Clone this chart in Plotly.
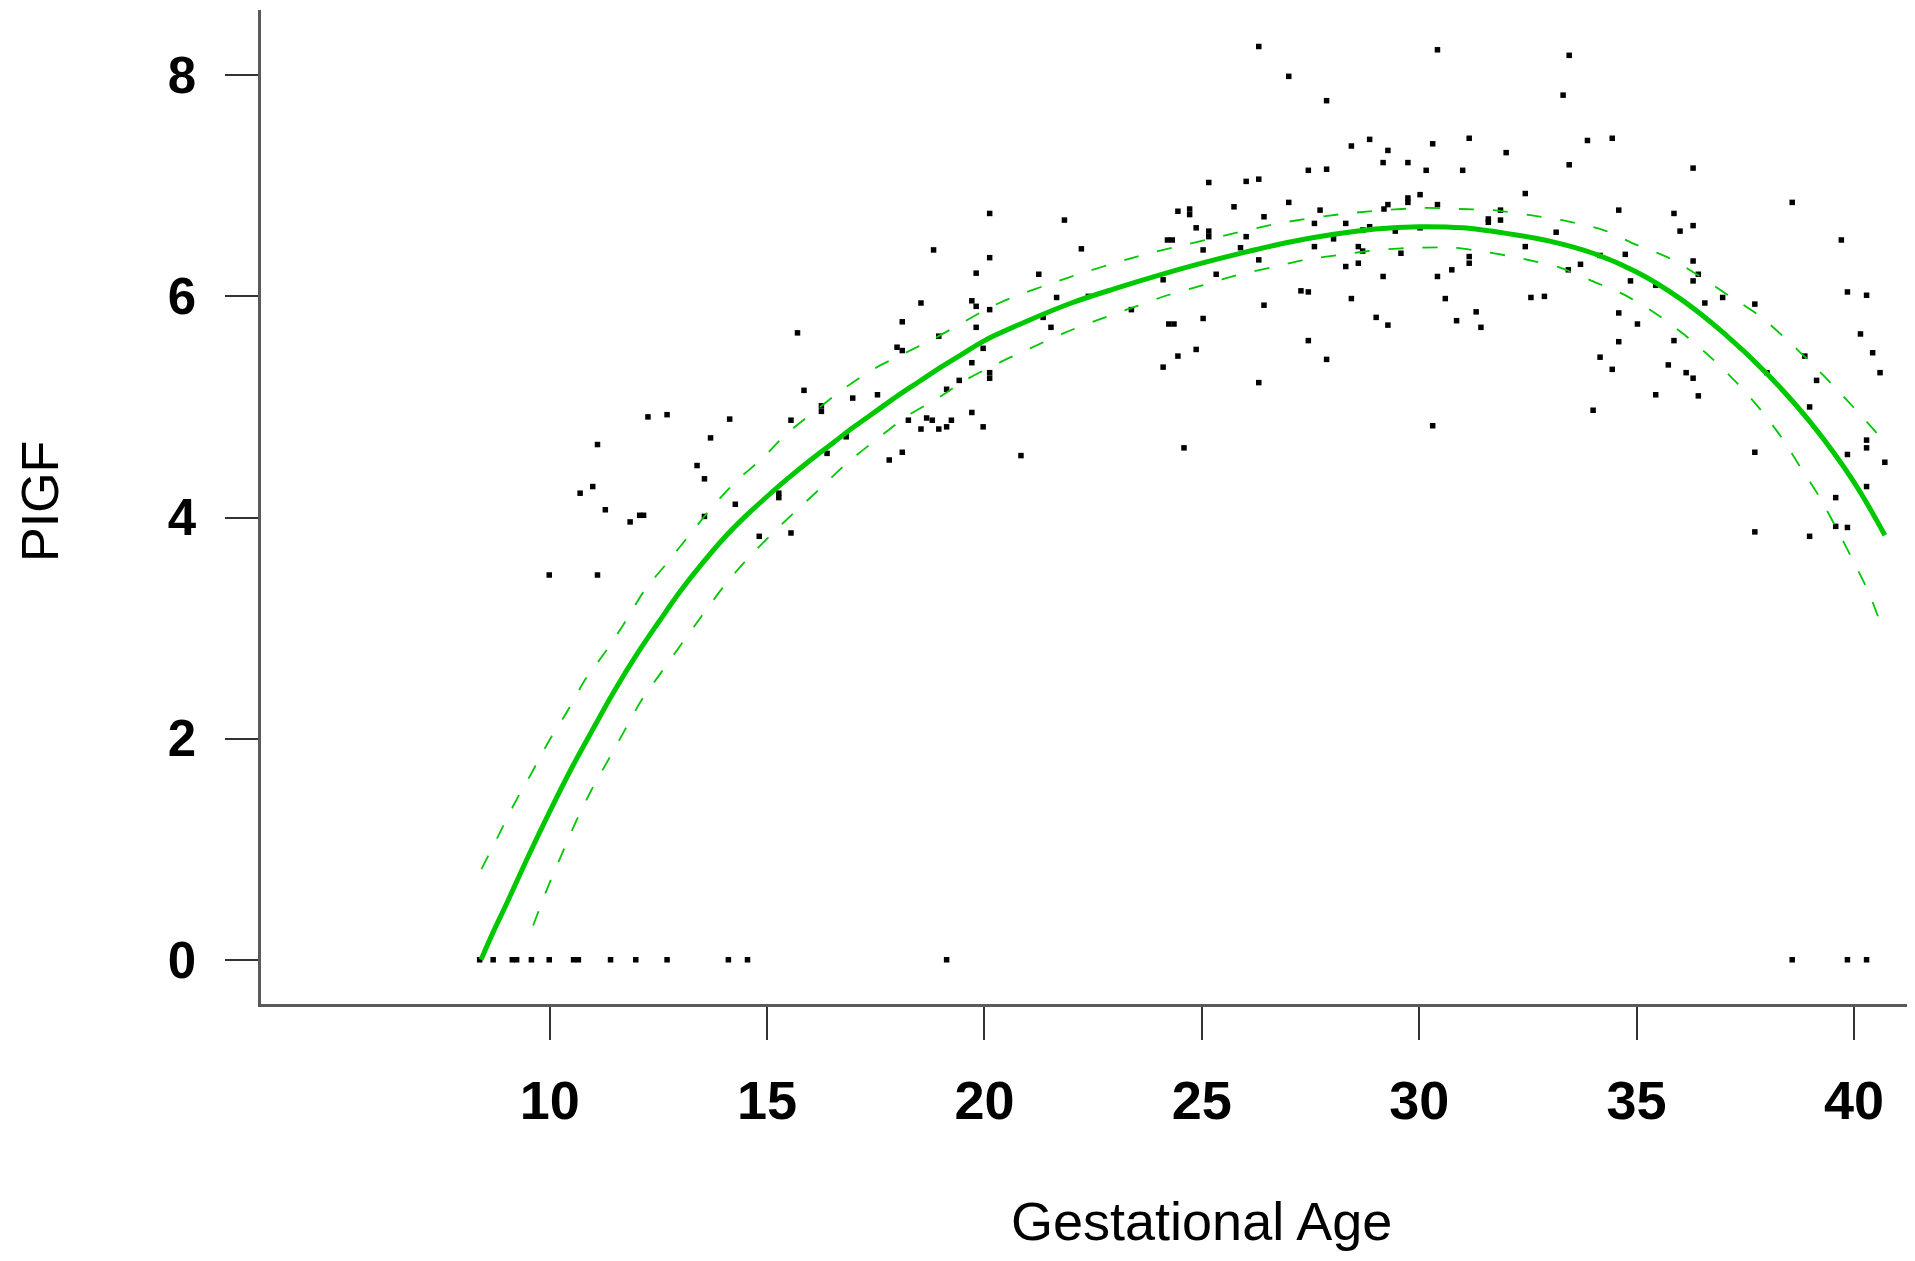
import plotly.graph_objects as go

# ---- scatter data (gestational age, PlGF) ----
ga = [
    8.39, 8.70, 9.14, 9.24, 9.58, 9.99, 10.55, 10.66, 11.40, 11.98, 12.70, 14.11, 14.55, 19.13, 38.58, 39.85, 40.29,
    15.70, 15.85, 16.25, 16.25, 15.55, 12.26, 12.70, 14.14, 11.10, 13.70, 13.39, 13.56, 10.99, 10.70, 15.27, 15.27,
    16.38, 16.82, 11.28, 11.85, 12.07, 12.16, 13.56, 14.27, 14.82, 15.55, 9.99, 11.10,
    26.31, 27.00, 27.87, 30.42, 28.86, 28.44, 29.28, 30.31, 29.17, 29.74, 30.16, 27.45, 27.87, 25.16, 26.02, 26.31,
    27.00, 27.72, 25.74, 26.43, 24.45, 24.72, 24.72, 24.87, 25.16, 25.16, 24.21, 24.32, 26.02, 25.03, 25.89, 26.31,
    25.33, 24.11, 30.02, 30.42, 29.28, 29.19, 29.74, 29.74, 27.59, 28.31, 28.86, 28.70, 29.45, 30.02, 28.03, 27.59,
    28.60, 28.70, 29.58, 28.31, 28.60, 29.17, 30.42, 30.75, 30.60, 28.44, 27.28, 27.45, 26.43, 29.01, 29.28, 27.45,
    27.87, 26.31, 30.31, 25.03, 24.24, 24.36, 24.45, 24.87, 24.11, 24.59, 22.39, 21.66, 22.23, 21.84, 21.25, 20.12,
    18.83, 20.12, 19.81, 18.54, 19.71, 19.81, 20.12, 18.11, 18.95, 19.81, 17.99, 18.11, 19.97, 21.35, 21.53, 19.71,
    20.12, 20.12, 19.42, 19.13, 16.97, 17.54, 23.38, 18.67, 18.80, 19.24, 18.25, 18.54, 18.95, 19.13, 19.71, 19.97,
    18.11, 17.81, 20.84,
    33.45, 33.31, 31.15, 31.00, 32.00, 33.87, 34.44, 33.45, 36.30, 32.44, 31.87, 31.59, 31.59, 31.87, 33.15, 32.44,
    31.15, 31.15, 33.43, 33.71, 34.16, 34.59, 34.74, 34.86, 35.44, 35.86, 36.00, 36.30, 36.30, 36.42, 36.30, 36.57,
    36.98, 37.72, 38.58, 39.71, 39.85, 40.29, 40.15, 40.43, 40.60, 38.87, 39.14, 38.98, 38.00, 32.57, 32.88, 31.31,
    30.86, 31.42, 34.59, 35.02, 34.59, 34.16, 34.44, 35.86, 35.73, 36.14, 36.30, 36.42, 35.44, 34.00, 37.72, 39.85,
    40.29, 40.29, 40.71, 40.29, 39.58, 37.72, 38.98, 39.58, 39.85,
]
plgf = [
    0, 0, 0, 0, 0, 0, 0, 0, 0, 0, 0, 0, 0, 0, 0, 0, 0,
    5.67, 5.15, 5.01, 4.96, 4.88, 4.91, 4.93, 4.89, 4.66, 4.72, 4.47, 4.35, 4.28, 4.22, 4.22, 4.18,
    4.58, 4.73, 4.07, 3.96, 4.02, 4.02, 4.01, 4.12, 3.83, 3.86, 3.48, 3.48,
    8.26, 7.99, 7.77, 8.23, 7.42, 7.36, 7.32, 7.38, 7.21, 7.21, 7.14, 7.14, 7.15, 7.03, 7.04, 7.06,
    6.85, 6.78, 6.81, 6.72, 6.77, 6.79, 6.74, 6.62, 6.59, 6.54, 6.51, 6.51, 6.54, 6.42, 6.44, 6.33,
    6.20, 6.15, 6.92, 6.83, 6.83, 6.79, 6.89, 6.85, 6.66, 6.66, 6.63, 6.60, 6.59, 6.62, 6.52, 6.45,
    6.45, 6.41, 6.39, 6.27, 6.30, 6.18, 6.18, 6.24, 5.98, 5.98, 6.05, 6.04, 5.92, 5.81, 5.74, 5.60,
    5.43, 5.22, 4.83, 5.80, 5.75, 5.75, 5.46, 5.52, 5.36, 4.63, 6.00, 5.99, 6.43, 6.69, 6.20, 6.75,
    6.42, 6.35, 6.21, 5.94, 5.96, 5.91, 5.88, 5.77, 5.64, 5.72, 5.54, 5.51, 5.53, 5.81, 5.72, 5.40,
    5.31, 5.26, 5.24, 5.16, 5.08, 5.11, 5.88, 4.90, 4.88, 4.88, 4.88, 4.80, 4.80, 4.82, 4.95, 4.82,
    4.59, 4.52, 4.56,
    8.18, 7.82, 7.43, 7.14, 7.30, 7.41, 7.43, 7.19, 7.16, 6.93, 6.78, 6.70, 6.67, 6.69, 6.58, 6.45,
    6.36, 6.30, 6.24, 6.29, 6.37, 6.78, 6.38, 6.14, 6.10, 6.75, 6.59, 6.64, 6.32, 6.20, 6.14, 5.94,
    5.99, 5.93, 6.85, 6.51, 6.04, 6.01, 5.66, 5.49, 5.31, 5.46, 5.24, 5.00, 5.31, 5.99, 6.00, 5.86,
    5.78, 5.72, 5.85, 5.75, 5.59, 5.45, 5.34, 5.60, 5.38, 5.31, 5.26, 5.10, 5.11, 4.97, 4.59, 4.57,
    4.70, 4.63, 4.50, 4.28, 4.18, 3.87, 3.83, 3.92, 3.91,
]

# ---- fitted curve and confidence limits ----
fit_x = [8.42, 8.70, 9.00, 9.50, 10.00, 10.50, 11.00, 11.50, 12.00, 12.50, 13.00, 13.50, 14.00, 14.50,
         15.00, 15.50, 16.00, 16.50, 17.00, 17.50, 18.00, 18.50, 19.00, 19.50, 20.00, 21.00, 22.00,
         23.00, 24.00, 25.00, 26.00, 27.00, 28.00, 29.00, 30.00, 31.00, 32.00, 33.00, 34.00, 35.00,
         36.00, 37.00, 38.00, 39.00, 40.00, 40.71]
fit_y = [0.00, 0.25, 0.50, 0.93, 1.34, 1.73, 2.09, 2.44, 2.76, 3.05, 3.33, 3.58, 3.81, 4.01,
         4.19, 4.36, 4.52, 4.67, 4.82, 4.96, 5.10, 5.23, 5.36, 5.48, 5.60, 5.78, 5.94,
         6.07, 6.19, 6.30, 6.40, 6.49, 6.56, 6.61, 6.63, 6.62, 6.57, 6.50, 6.39, 6.22,
         5.98, 5.67, 5.30, 4.86, 4.32, 3.84]

upper_x = [8.43, 8.83, 9.20, 9.60, 9.97, 10.41, 10.81, 11.29, 11.71, 12.18, 12.68, 13.21, 13.73, 14.29, 14.88,
           15.43, 16.09, 16.75, 17.44, 18.85, 20.34, 21.93, 23.51, 25.09, 26.77, 28.35, 30.11, 30.94, 31.70,
           32.63, 33.39, 34.24, 34.97, 35.73, 36.46, 37.15, 37.84, 38.45, 39.06, 39.60, 40.17, 40.67]
upper_y = [0.82, 1.13, 1.42, 1.70, 1.97, 2.25, 2.53, 2.79, 3.04, 3.34, 3.58, 3.84, 4.09, 4.33, 4.53,
           4.75, 4.96, 5.16, 5.34, 5.62, 5.94, 6.17, 6.36, 6.51, 6.66, 6.75, 6.80, 6.79, 6.78,
           6.73, 6.68, 6.60, 6.47, 6.35, 6.18, 6.00, 5.82, 5.61, 5.38, 5.16, 4.92, 4.70]

lower_x = [9.62, 9.93, 10.24, 10.57, 10.94, 11.28, 11.69, 12.10, 12.55, 13.04, 13.48, 14.01, 14.51, 15.08, 15.61,
           16.27, 16.83, 17.53, 18.23, 18.93, 19.55, 20.34, 21.05, 21.84, 22.63, 23.42, 24.21, 25.01, 25.80,
           26.59, 27.38, 28.26, 29.06, 29.94, 30.79, 31.56, 32.39, 33.24, 33.97, 34.69, 35.42, 36.11, 36.73,
           37.30, 37.84, 38.34, 38.76, 39.20, 39.60, 39.98, 40.33, 40.67]
lower_y = [0.31, 0.63, 0.92, 1.22, 1.52, 1.76, 2.05, 2.34, 2.59, 2.86, 3.10, 3.38, 3.61, 3.84, 4.04,
           4.28, 4.49, 4.71, 4.92, 5.08, 5.24, 5.40, 5.53, 5.67, 5.79, 5.90, 6.01, 6.10, 6.19,
           6.26, 6.33, 6.38, 6.42, 6.44, 6.44, 6.40, 6.34, 6.26, 6.14, 6.02, 5.85, 5.65, 5.44,
           5.22, 4.98, 4.72, 4.46, 4.19, 3.90, 3.61, 3.33, 2.98]

x_ticks = [10, 15, 20, 25, 30, 35, 40]
y_ticks = [0, 2, 4, 6, 8]

GREEN = "rgb(0,200,0)"
FONT = "Liberation Sans"

fig = go.Figure()
fig.add_trace(go.Scatter(x=ga, y=plgf, mode="markers",
                         marker=dict(symbol="square", size=5.5, color="black", line=dict(width=0)),
                         cliponaxis=False))
fig.add_trace(go.Scatter(x=upper_x, y=upper_y, mode="lines",
                         line=dict(color=GREEN, width=1.8, dash="15px,19px", shape="spline", smoothing=0.8)))
fig.add_trace(go.Scatter(x=lower_x, y=lower_y, mode="lines",
                         line=dict(color=GREEN, width=1.8, dash="15px,19px", shape="spline", smoothing=0.8)))
fig.add_trace(go.Scatter(x=fit_x, y=fit_y, mode="lines",
                         line=dict(color=GREEN, width=5, shape="spline", smoothing=1.0)))

# page body has an 8px margin: figure sized so that the plot sits where the reference's does
fig.update_layout(
    width=1899, height=1245,
    margin=dict(l=253, r=0, t=2, b=249),
    plot_bgcolor="white", paper_bgcolor="white",
    showlegend=False,
    font=dict(family=FONT, color="black"),
    xaxis=dict(range=[3.36, 41.22], tickvals=x_ticks, ticktext=[str(v) for v in x_ticks],
               showline=True, linecolor="#5a5a5a", linewidth=2.5,
               ticks="outside", ticklen=33, tickwidth=1.5, tickcolor="#333333",
               showgrid=False, zeroline=False, ticklabelstandoff=14,
               tickfont=dict(family=FONT, size=54, color="black", weight="bold")),
    yaxis=dict(range=[-0.40, 8.59], tickvals=y_ticks, ticktext=[str(v) for v in y_ticks],
               showline=True, linecolor="#5a5a5a", linewidth=2.5,
               ticks="outside", ticklen=33, tickwidth=1.5, tickcolor="#333333",
               showgrid=False, zeroline=False, ticklabelstandoff=19,
               tickfont=dict(family=FONT, size=51, color="black", weight="bold")),
    annotations=[
        dict(text="Gestational Age", x=25, xref="x", y=0, yref="paper",
             xanchor="center", yanchor="middle", yshift=-217, showarrow=False, borderpad=0,
             font=dict(family=FONT, size=54, color="black")),
        dict(text="PIGF", x=0, xref="paper", y=0.5, yref="paper",
             xanchor="center", yanchor="middle", xshift=-221, yshift=5, textangle=-90, showarrow=False,
             borderpad=0, font=dict(family=FONT, size=52, color="black")),
    ],
)

fig.write_html("out.html")
